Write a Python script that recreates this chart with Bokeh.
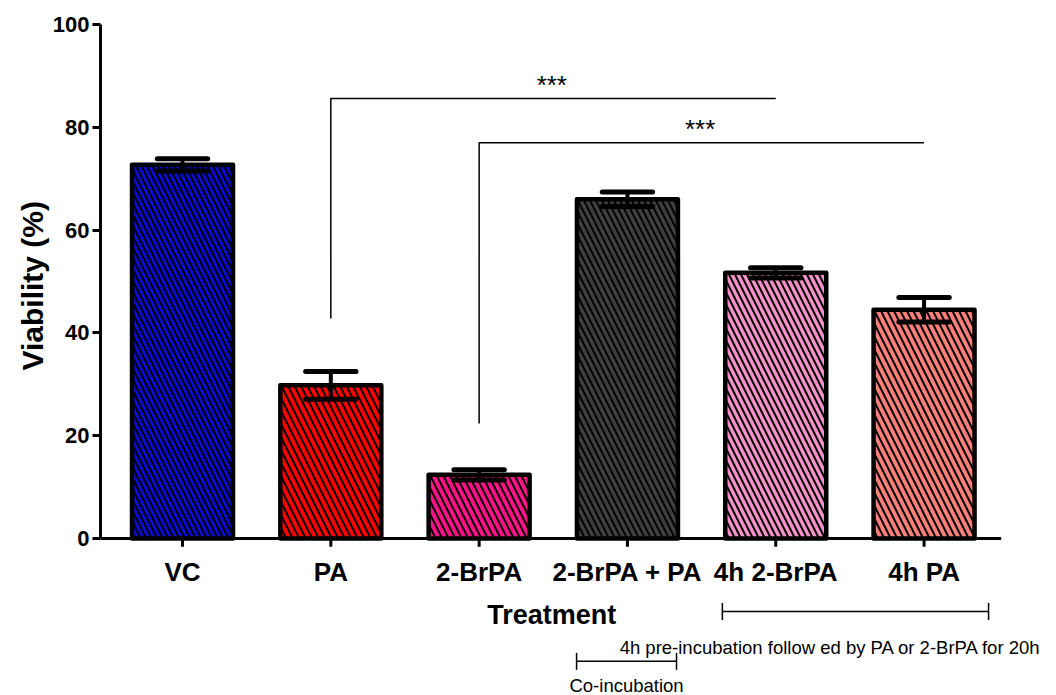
from bokeh.plotting import figure
from bokeh.models import Range1d, FixedTicker, ColumnDataSource, Title
from bokeh.core.properties import value
from bokeh.embed import file_html
from bokeh.resources import INLINE

# Cell viability per treatment (mean and SEM, %)
categories = ["VC", "PA", "2-BrPA", "2-BrPA + PA", "4h 2-BrPA", "4h PA"]
viability = [72.7, 29.8, 12.4, 66.0, 51.7, 44.5]
sem = [1.2, 2.7, 1.0, 1.4, 1.0, 2.4]
y_ticks = [0, 20, 40, 60, 80, 100]

# Significance comparisons: (from, to, label)
comparisons = [("PA", "4h 2-BrPA", "***"), ("2-BrPA", "4h PA", "***")]

# Styling
bar_colors = ["#0a0ad2", "#ff0000", "#ff1288", "#404040", "#f590c8", "#fa7f78"]
hatch_scales = [11, 13, 13, 12, 12, 13]
FONT = "Liberation Sans"

xs = list(range(len(categories)))
pos = {c: i for i, c in enumerate(categories)}
cap = 0.17

p = figure(width=1056, height=695, output_backend="svg", toolbar_location=None,
           x_range=Range1d(-0.553, 5.893), y_range=Range1d(-30.54, 104.67),
           min_border_left=100, min_border_right=0, min_border_top=0,
           min_border_bottom=0, x_axis_type=None)
p.outline_line_color = None
p.ygrid.visible = False
p.background_fill_color = "white"
p.border_fill_color = "white"

# y axis
ax = p.yaxis[0]
ax.ticker = FixedTicker(ticks=y_ticks)
ax.bounds = (0, 100)
ax.axis_line_width = 3
ax.major_tick_line_width = 3
ax.major_tick_out = 8
ax.major_tick_in = 0
ax.minor_tick_line_color = None
ax.major_label_text_font = FONT
ax.major_label_text_font_style = "bold"
ax.major_label_text_font_size = "22px"
ax.major_label_text_color = "black"
ax.major_label_standoff = 3

# y axis title, placed beside the 0-100 span of the axis
p.add_layout(Title(text="Viability (%)", align="left", offset=325,
                   vertical_align="middle", text_font=FONT, text_font_style="bold",
                   text_font_size="30px", text_color="black", standoff=0), "left")

src = ColumnDataSource(dict(
    x=xs, top=viability, color=bar_colors, hs=hatch_scales,
    low=[v - e for v, e in zip(viability, sem)],
    high=[v + e for v, e in zip(viability, sem)],
    cl=[i - cap for i in xs], cr=[i + cap for i in xs]))

p.vbar(x="x", top="top", bottom=0, width=0.681, source=src,
       fill_color="color", line_color="black", line_width=4.5, line_join="round",
       hatch_pattern="\\", hatch_color="black", hatch_scale="hs", hatch_weight=2)

# error bars
p.segment(x0="x", y0="low", x1="x", y1="high", source=src, line_color="black", line_width=4)
p.segment(x0="cl", y0="high", x1="cr", y1="high", source=src,
          line_color="black", line_width=5, line_cap="round")
p.segment(x0="cl", y0="low", x1="cr", y1="low", source=src,
          line_color="black", line_width=5, line_cap="round")

# x axis drawn along y = 0
p.segment(x0=[-0.553], y0=[0], x1=[5.52], y1=[0], line_color="black", line_width=3)
p.segment(x0=xs, y0=[0] * len(xs), x1=xs, y1=[-1.6] * len(xs), line_color="black", line_width=3)
p.text(x=xs, y=[-6.6] * len(xs), text=categories, text_align="center",
       text_baseline="alphabetic", text_font=value(FONT), text_font_style="bold",
       text_font_size="26px", text_color="black")
p.text(x=[2.49], y=[-14.8], text=["Treatment"], text_align="center",
       text_baseline="alphabetic", text_font=value(FONT), text_font_style="bold",
       text_font_size="27px", text_color="black")

# significance brackets
bracket_levels = [85.6, 77.0]
bracket_drops = [42.8, 22.4]
for (a, b, lab), lvl, drop in zip(comparisons, bracket_levels, bracket_drops):
    xa, xb = pos[a], pos[b]
    p.line(x=[xa, xa, xb], y=[drop, lvl, lvl], line_color="black", line_width=1.5)
    p.text(x=[(xa + xb) / 2 - 0.01], y=[lvl + 2.7], text=[lab], text_align="center",
           text_baseline="alphabetic", text_font=value(FONT), text_font_size="26px",
           text_color="black")


# treatment-scheme annotations below the axis
def span(x0, x1, y, tick, label, tx, ty):
    p.segment(x0=[x0], y0=[y], x1=[x1], y1=[y], line_color="black", line_width=1.5)
    p.segment(x0=[x0, x1], y0=[y - tick, y - tick], x1=[x0, x1], y1=[y + tick, y + tick],
              line_color="black", line_width=1.5)
    p.text(x=[tx], y=[ty], text=[label],
           text_align="center", text_baseline="alphabetic", text_font=value(FONT),
           text_font_size="18.5px", text_color="black")


span(3.64, 5.435, -14.2, 1.65, "4h pre-incubation follow ed by PA or 2-BrPA for 20h", 4.37, -21.2)
span(2.657, 3.331, -23.9, 1.65, "Co-incubation", 2.994, -28.5)

open("out.html", "w").write(file_html(p, INLINE))
